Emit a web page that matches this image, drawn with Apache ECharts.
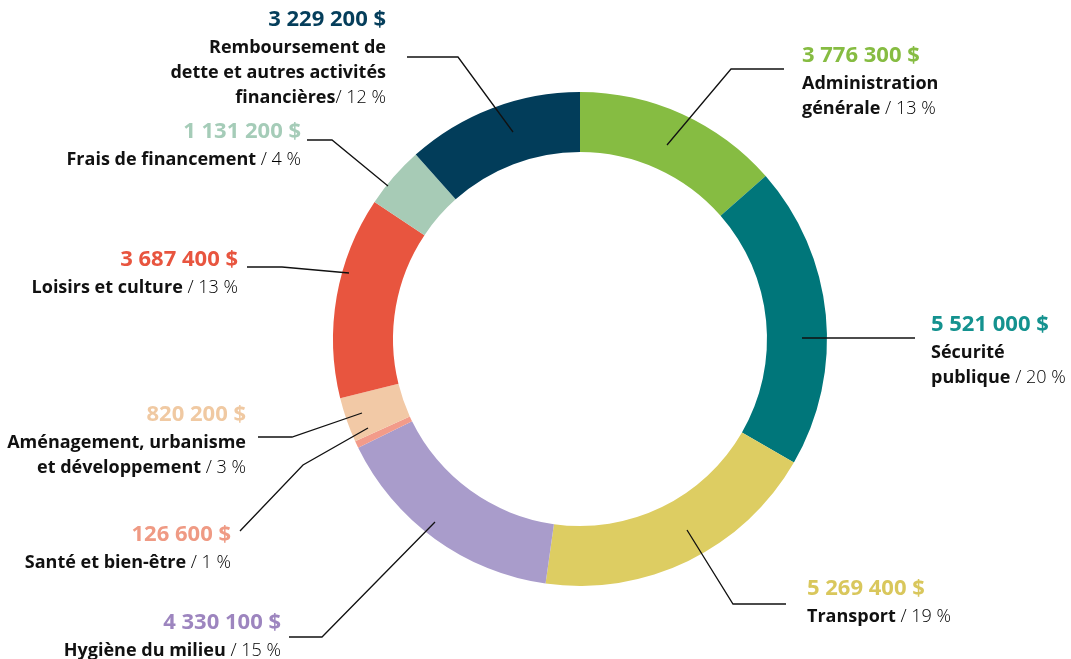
<!DOCTYPE html>
<html>
<head>
<meta charset="utf-8">
<script src="https://cdn.jsdelivr.net/npm/echarts@6/dist/echarts.min.js"></script>
<style>
  html, body { margin: 0; padding: 0; background: #fff; }
  #main { width: 1071px; height: 659px; }
</style>
</head>
<body>
<div id="main"></div>
<script>
// postes du budget, dans le sens horaire à partir de midi
var categories = [
  'Administration\ngénérale',
  'Sécurité\npublique',
  'Transport',
  'Hygiène du milieu',
  'Santé et bien-être',
  'Aménagement, urbanisme\net développement',
  'Loisirs et culture',
  'Frais de financement',
  'Remboursement de\ndette et autres activités\nfinancières'
];
var amounts = [3776300, 5521000, 5269400, 4330100, 126600, 820200, 3687400, 1131200, 3229200];
var shares = [13, 20, 19, 15, 1, 3, 13, 4, 12];

var colors = ['#86bc42', '#00767a', '#ddcd62', '#a99ccb', '#f29b8a', '#f2c9a6', '#e8553f', '#a7cbb6', '#023d5a'];
var textColors = ['#86bc42', '#14928f', '#d9c75c', '#9d85bf', '#ef9a84', '#f0c9a2', '#e8553f', '#a5ccb8', '#053e5b'];

// emplacement des étiquettes : x, haut du bloc, alignement
var labelPos = [
  [802, 41, 'left'],
  [931, 310, 'left'],
  [807, 574, 'left'],
  [281, 608, 'right'],
  [231, 520, 'right'],
  [246, 400, 'right'],
  [238, 245, 'right'],
  [301, 117, 'right'],
  [386, 5, 'right']
];
// traits de rappel
var leaders = [
  [[667, 145], [731, 69], [784, 69]],
  [[802, 338], [915, 338]],
  [[687, 530], [733, 604], [786, 604]],
  [[435, 522], [322, 637], [289, 637]],
  [[368, 428], [303, 465], [240, 531]],
  [[362, 413], [292, 437], [258, 437]],
  [[349, 273], [282, 267], [247, 267]],
  [[388, 186], [332, 140], [307, 140]],
  [[513, 132], [458, 57], [407, 57]]
];

var FONT = '"Open Sans", "Noto Sans", sans-serif';

function money(v) {
  return String(v).replace(/\B(?=(\d{3})+(?!\d))/g, ' ') + ' $';
}

function richFor(i) {
  var a = labelPos[i][2];
  return {
    v: { fontFamily: FONT, fontSize: 22, fontWeight: 'bold', color: textColors[i], lineHeight: 30, align: a },
    b: { fontFamily: FONT, fontSize: 18, fontWeight: 'bold', color: '#111', lineHeight: 25, align: a },
    p: { fontFamily: FONT, fontSize: 18, fontWeight: 300, color: '#000', lineHeight: 25, align: a }
  };
}

var data = categories.map(function (c, i) {
  return {
    name: c,
    value: amounts[i],
    itemStyle: { color: colors[i] },
    label: { rich: richFor(i) }
  };
});

var myChart = echarts.init(document.getElementById('main'));

var option = {
  animation: false,
  graphic: leaders.map(function (pts) {
    return {
      type: 'polyline',
      z: 100,
      silent: true,
      shape: { points: pts },
      style: { stroke: '#111', lineWidth: 1.3, fill: null }
    };
  }),
  series: [
    {
      type: 'pie',
      center: [580, 339],
      radius: [187, 247],
      startAngle: 90,
      clockwise: true,
      avoidLabelOverlap: false,
      silent: true,
      data: data,
      label: {
        show: true,
        position: 'outside',
        formatter: function (p) {
          var i = p.dataIndex;
          var lines = categories[i].split('\n');
          var s = '{v|' + money(amounts[i]) + '}';
          lines.forEach(function (l) {
            s += '\n{b|' + l + '}';
          });
          s += '{p|' + (i === 8 ? '/ ' : ' / ') + shares[i] + ' %}';
          return s;
        }
      },
      labelLine: { show: false },
      labelLayout: function (p) {
        var i = p.dataIndex;
        return {
          x: labelPos[i][0],
          y: labelPos[i][1],
          align: labelPos[i][2],
          verticalAlign: 'top'
        };
      }
    }
  ]
};

myChart.setOption(option);
</script>
</body>
</html>
